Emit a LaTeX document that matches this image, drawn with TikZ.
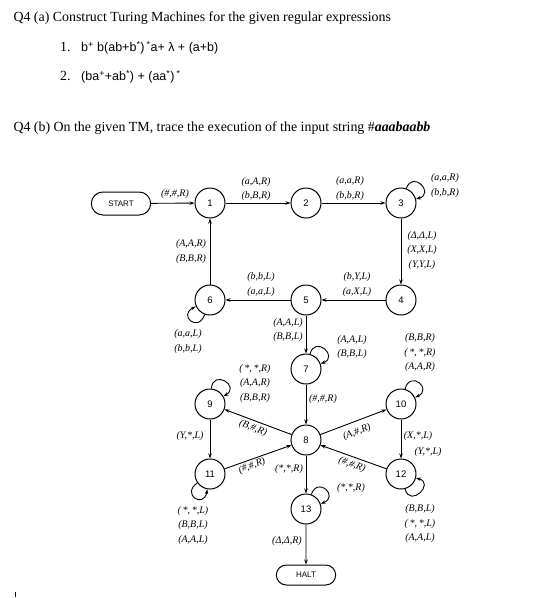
\documentclass[tikz,border=0pt]{standalone}
\usepackage{fontspec}
\setmainfont{Liberation Serif}
\setsansfont{Liberation Sans}
\usetikzlibrary{arrows.meta,shapes.misc}

\begin{document}
\begin{tikzpicture}[x=1pt, y=-1pt,
		state/.style={draw, circle, line width=1pt, minimum size=30pt, inner sep=0pt, font=\sffamily\fontsize{9.5}{11}\selectfont},
		term/.style={draw, rounded rectangle, line width=1pt, minimum width=66pt, minimum height=23pt, font=\sffamily\fontsize{8}{10}\selectfont},
		move/.style={font=\itshape\fontsize{10}{14.5}\selectfont, align=center, inner sep=0pt},
		trans/.style={line width=0.9pt, -{Stealth[length=5pt,width=3.5pt]}},
		loopy/.style={trans, looseness=1, min distance=20pt},
		question/.style={anchor=base west, inner sep=0pt, font=\fontsize{13.9}{16}\selectfont},
		regex/.style={anchor=base west, inner sep=0pt, font=\sffamily\fontsize{12.5}{15}\selectfont}]
			%%%%% START %%%%%
			\useasboundingbox (0,0) rectangle (556,598);
			
			\node[question] (qa) at (13.3, 21.7) {Q4 (a) Construct Turing Machines for the given regular expressions};
			\node[question] (ia) at (60, 51.7) {1.};
			\node[regex] (ea) at (81, 51.7) {b\textsuperscript{+} b(ab+b\textsuperscript{*})\,\textsuperscript{*}a+ λ + (a+b)};
			\node[question] (ib) at (60, 80.7) {2.};
			\node[regex] (eb) at (81, 80.7) {(ba\textsuperscript{+}+ab\textsuperscript{*}) + (aa\textsuperscript{*})\,\textsuperscript{*}};
			\node[question] (qb) at (13.3, 131.7) {Q4 (b) On the given TM, trace the execution of the input string \#\textbf{\textit{aaabaabb}}};
			
			\node[term] (start) at (121, 203.5) {START};
			\node[state] (n1) at (210, 203) {1};
			\node[state] (n2) at (306, 203) {2};
			\node[state] (n3) at (401, 203) {3};
			\node[state] (n4) at (401, 300) {4};
			\node[state] (n5) at (306, 300) {5};
			\node[state] (n6) at (210, 300) {6};
			\node[state] (n7) at (306, 369) {7};
			\node[state] (n9) at (210, 404) {9};
			\node[state] (n10) at (401, 404) {10};
			\node[state] (n8) at (306, 440) {8};
			\node[state] (n11) at (210, 474) {11};
			\node[state] (n12) at (401, 474) {12};
			\node[state] (n13) at (306, 509) {13};
			\node[term, minimum height=20pt] (halt) at (306, 575) {HALT};
			
			\draw[trans] (start) -- (n1);
			\draw[trans] (n1) -- (n2);
			\draw[trans] (n2) -- (n3);
			\draw[trans] (n3) -- (n4);
			\draw[trans] (n4) -- (n5);
			\draw[trans] (n5) -- (n6);
			\draw[trans] (n6) -- (n1);
			\draw[trans] (n5) -- (n7);
			\draw[trans] (n7) -- (n8);
			\draw[trans] (n8) -- (n9);
			\draw[trans] (n8) -- (n10);
			\draw[trans] (n9) -- (n11);
			\draw[trans] (n10) -- (n12);
			\draw[trans] (n11) -- (n8);
			\draw[trans] (n12) -- (n8);
			\draw[trans] (n8) -- (n13);
			\draw[trans] (n13) -- (halt);
			
			\draw[loopy] (n3) to[out=70, in=15] (n3);
			\draw[loopy] (n6) to[out=250, in=205] (n6);
			\draw[loopy] (n7) to[out=75, in=20] (n7);
			\draw[loopy] (n9) to[out=85, in=30] (n9);
			\draw[loopy] (n10) to[out=75, in=25] (n10);
			\draw[loopy] (n13) to[out=70, in=20] (n13);
			\draw[loopy] (n11) to[out=215, in=260] (n11);
			\draw[loopy] (n12) to[out=285, in=345] (n12);
			
			\node[move] (lstart) at (175, 194) {(\#,\#,R)};
			\node[move] (l12) at (256, 189) {(a,A,R)\\(b,B,R)};
			\node[move] (l23) at (350, 188.5) {(a,a,R)\\(b,b,R)};
			\node[move] (l33) at (445, 185.5) {(a,a,R)\\(b,b,R)};
			\node[move] (l34) at (422, 250.5) {(Δ,Δ,L)\\(X,X,L)\\(Y,Y,L)};
			\node[move] (l45) at (357, 284.5) {(b,Y,L)\\(a,X,L)};
			\node[move] (l56) at (261, 284.5) {(b,b,L)\\(a,a,L)};
			\node[move] (l61) at (191, 251.5) {(A,A,R)\\(B,B,R)};
			\node[move] (l66) at (188, 341.5) {(a,a,L)\\(b,b,L)};
			\node[move] (l57) at (288, 330) {(A,A,L)\\(B,B,L)};
			\node[move] (l77) at (352, 347) {(A,A,L)\\(B,B,L)};
			\node[move] (l99) at (255, 383.5) {(\,*,\,*,R)\\(A,A,R)\\(B,B,R)};
			\node[move] (l78) at (323, 399) {(\#,\#,R)};
			\node[move] (l1010) at (420, 353) {(B,B,R)\\(\,*,\,*,R)\\(A,A,R)};
			\node[move, rotate=-21] (l89) at (253, 428) {(B,\#,R)};
			\node[move, rotate=21] (l810) at (357, 432) {(A,\#,R)};
			\node[move, rotate=20] (l118) at (252, 466) {(\#,\#,R)};
			\node[move, rotate=-20] (l128) at (352, 465) {(\#,\#,R)};
			\node[move] (l911) at (190, 436) {(Y,*,L)};
			\node[move] (l1012) at (418, 436) {(X,*,L)};
			\node[move] (l1012b) at (428, 452) {(Y,*,L)};
			\node[move] (l813) at (289, 469) {(*,*,R)};
			\node[move] (l1313) at (351, 488) {(*,*,R)};
			\node[move] (l1111) at (193, 525.5) {(\,*,\,*,L)\\(B,B,L)\\(A,A,L)};
			\node[move] (l1212) at (420, 524) {(B,B,L)\\(\,*,\,*,L)\\(A,A,L)};
			\node[move] (l13h) at (287, 541) {(Δ,Δ,R)};
			
			\draw[line width=1pt] (15, 592) -- (15, 597);
			%%%%% END %%%%%
		\end{tikzpicture}
\end{document}
